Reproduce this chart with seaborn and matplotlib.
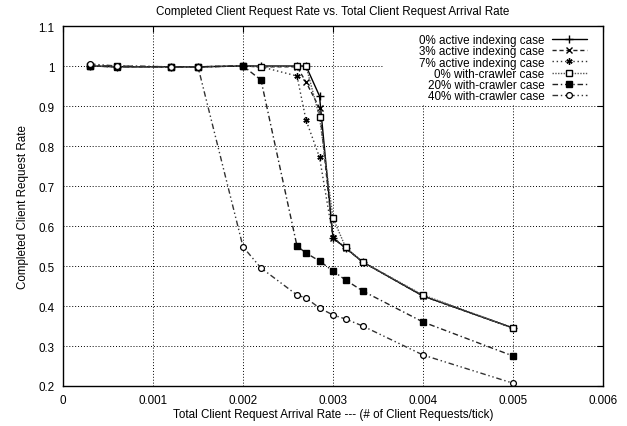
import matplotlib
matplotlib.use("Agg")
import matplotlib.pyplot as plt
from matplotlib.patches import Rectangle
import seaborn as sns
import pandas as pd

x_full = [0.0003, 0.0006, 0.0012, 0.0015, 0.002, 0.0022, 0.0026, 0.0027,
          0.00285, 0.003, 0.00314, 0.00333, 0.004, 0.005]

active0 = [1.0, 0.998, 0.998, 0.998, 1.0, 1.0, 1.0, 1.0,
           0.925, 0.57, 0.545, 0.51, 0.425, 0.345]
active3 = [1.0, 0.998, 0.998, 0.998, 1.0, 0.998, 0.998, 0.96,
           0.895, 0.57, 0.545, 0.51, 0.425, 0.345]
active7 = [1.0, 0.998, 0.998, 0.998, 1.0, 0.998, 0.975, 0.865,
           0.772, 0.572, 0.545, 0.51, 0.425, 0.345]
crawler0 = [1.0, 0.998, 0.998, 0.998, 1.0, 0.998, 1.0, 1.0,
            0.873, 0.62, 0.547, 0.51, 0.4275, 0.345]
crawler20 = [1.0, 1.0, 0.998, 0.998, 1.0, 0.965, 0.55, 0.5325,
             0.5125, 0.4875, 0.465, 0.4375, 0.36, 0.275]
crawler40 = [1.005, 1.0, 0.998, 0.998, 0.548, 0.495, 0.4275, 0.42,
             0.395, 0.3775, 0.3675, 0.35, 0.2775, 0.207]

labels = ["0% active indexing case", "3% active indexing case",
          "7% active indexing case", "0% with-crawler case",
          "20% with-crawler case", "40% with-crawler case"]

xticks = [0, 0.001, 0.002, 0.003, 0.004, 0.005, 0.006]
xtick_labels = ["0", "0.001", "0.002", "0.003", "0.004", "0.005", "0.006"]
yticks = [0.2, 0.3, 0.4, 0.5, 0.6, 0.7, 0.8, 0.9, 1.0, 1.1]
ytick_labels = ["0.2", "0.3", "0.4", "0.5", "0.6", "0.7", "0.8", "0.9", "1", "1.1"]

title = "Completed Client Request Rate vs. Total Client Request Arrival Rate"
xlabel = "Total Client Request Arrival Rate --- (# of Client Requests/tick)"
ylabel = "Completed Client Request Rate"

sns.set_theme(style="white")
plt.rcParams['font.family'] = ['Liberation Sans', 'DejaVu Sans']
FS = 8.4

fig = plt.figure(figsize=(6.27, 4.27), dpi=100)
ax = fig.add_axes([63/627, 1-387/427, 540/627, 360/427])

styles = [
    dict(linestyle="-", marker="+", markersize=5.5, markerfacecolor="black", markeredgewidth=1.0),
    dict(linestyle=(0, (3, 2)), marker="x", markersize=3.8, markerfacecolor="black", markeredgewidth=1.0),
    dict(linestyle=(0, (1, 2)), marker=(6, 2, 0), markersize=4.5, markerfacecolor="black", markeredgewidth=1.0),
    dict(linestyle=(0, (1, 1)), marker="s", markersize=4.3, markerfacecolor="white", markeredgewidth=1.0),
    dict(linestyle=(0, (4, 2, 1, 2)), marker="s", markersize=4.5, markerfacecolor="black", markeredgewidth=1.0),
    dict(linestyle=(0, (4, 2, 1, 2, 1, 2)), marker="o", markersize=4.2, markerfacecolor="white", markeredgewidth=0.9),
]
colors = ["black", "#222222", "#333333", "#555555", "#222222", "#333333"]

series = [active0, active3, active7, crawler0, crawler20, crawler40]
for ys, lab, st, c in zip(series, labels, styles, colors):
    df = pd.DataFrame({"x": x_full, "y": ys})
    sns.lineplot(data=df, x="x", y="y", ax=ax, label=lab, color=c,
                 linewidth=1.0, markeredgecolor="black", sort=False,
                 estimator=None, **st)

ax.set_xlim(0, 0.006)
ax.set_ylim(0.2, 1.1)
ax.set_xticks(xticks)
ax.set_xticklabels(xtick_labels, fontsize=FS)
ax.set_yticks(yticks)
ax.set_yticklabels(ytick_labels, fontsize=FS)
ax.set_axisbelow(True)
ax.grid(True, color="black", linestyle=(0, (1, 2)), linewidth=0.7)
ax.tick_params(direction="in", top=True, right=True, length=4, width=0.8,
               color="black", pad=6, labelsize=FS, labelcolor="black")
for s in ax.spines.values():
    s.set_color("black")
    s.set_linewidth(1.0)

ax.add_patch(Rectangle((0.593, 0.783), 0.407, 0.217, transform=ax.transAxes,
                       facecolor="white", edgecolor="none", zorder=1))

ax.set_title(title, fontsize=FS, color="black", pad=9)
ax.set_xlabel(xlabel, fontsize=FS, color="black", labelpad=1)
ax.set_ylabel(ylabel, fontsize=FS, color="black", labelpad=7)

leg = ax.legend(loc="upper right", bbox_to_anchor=(0.985, 1.0), markerfirst=False,
                frameon=False, fontsize=FS, handlelength=3.0, handletextpad=0.6,
                labelspacing=-0.07, borderpad=0.2)
for t in leg.get_texts():
    t.set_color("black")

fig.savefig("out.png", dpi=100)
